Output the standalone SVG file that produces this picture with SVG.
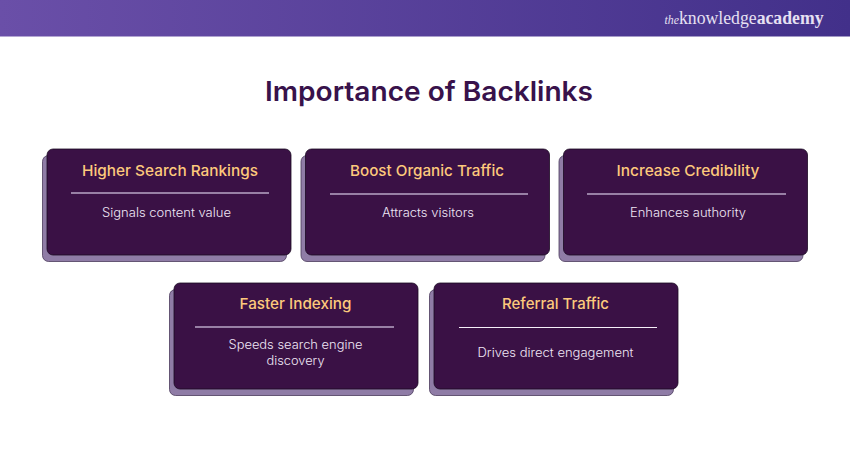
<svg xmlns="http://www.w3.org/2000/svg" width="850" height="450" viewBox="0 0 850 450">
<style>
text{font-family:Inter,"Liberation Sans",sans-serif;text-anchor:middle}
.s{fill:#8f7ca6;stroke:#4a3a5c;stroke-width:.8}
.f{fill:#3a1145;stroke:#1a0a22;stroke-width:.8}
.h{fill:#fdc97c;font-size:15px;font-weight:500}
.b{fill:#efe6f5;font-size:12.5px;font-weight:300}
.r{stroke:#b9a6c6;stroke-width:1.5}
</style>
<defs><linearGradient id="g" x1="0" x2="1" y1="0" y2="0"><stop offset="0" stop-color="#6a4fa8"/><stop offset="1" stop-color="#42308a"/></linearGradient></defs>
<rect id="banner" width="850" height="36.500" fill="url(#g)"/>
<g id="logo"><text x="744" y="24" style="font-family:'Liberation Serif',serif" font-size="18" fill="#e6e0f2" textLength="159" lengthAdjust="spacingAndGlyphs"><tspan font-style="italic" font-size="12">the</tspan>knowledge<tspan font-weight="700">academy</tspan></text></g>
<text id="title" x="429" y="101" font-size="27.500" font-weight="600" fill="#38124b" textLength="328" lengthAdjust="spacingAndGlyphs">Importance of Backlinks</text>
<g id="card1"><rect class="s" x="42.500" y="155.500" width="244" height="106" rx="6"/><rect class="f" x="47" y="149" width="244" height="106" rx="6"/><text class="h" x="170" y="176" textLength="176" lengthAdjust="spacingAndGlyphs">Higher Search Rankings</text><line class="r" x1="71" y1="193" x2="269" y2="193"/><text class="b" x="166.500" y="217" textLength="129" lengthAdjust="spacingAndGlyphs">Signals content value</text></g>
<g id="card2"><rect class="s" x="301" y="155.500" width="244" height="106" rx="6"/><rect class="f" x="305.500" y="149" width="244" height="106" rx="6"/><text class="h" x="427" y="176" textLength="154" lengthAdjust="spacingAndGlyphs">Boost Organic Traffic</text><line class="r" x1="330" y1="194" x2="528" y2="194"/><text class="b" x="428" y="217" textLength="92" lengthAdjust="spacingAndGlyphs">Attracts visitors</text></g>
<g id="card3"><rect class="s" x="559" y="155.500" width="244" height="106" rx="6"/><rect class="f" x="563.500" y="149" width="244" height="106" rx="6"/><text class="h" x="688" y="176" textLength="143" lengthAdjust="spacingAndGlyphs">Increase Credibility</text><line class="r" x1="587" y1="194" x2="786" y2="194"/><text class="b" x="688" y="217" textLength="116" lengthAdjust="spacingAndGlyphs">Enhances authority</text></g>
<g id="card4"><rect class="s" x="169.500" y="289.500" width="244" height="106" rx="6"/><rect class="f" x="174" y="283" width="244" height="106" rx="6"/><text class="h" x="295.500" y="309" textLength="112" lengthAdjust="spacingAndGlyphs">Faster Indexing</text><line class="r" x1="195" y1="327" x2="394" y2="327"/><text class="b" x="295.500" y="349" textLength="134" lengthAdjust="spacingAndGlyphs">Speeds search engine</text><text class="b" x="295.500" y="365" textLength="58" lengthAdjust="spacingAndGlyphs">discovery</text></g>
<g id="card5"><rect class="s" x="429.500" y="289.500" width="244" height="106" rx="6"/><rect class="f" x="434" y="283" width="244" height="106" rx="6"/><text class="h" x="555.500" y="309" textLength="107" lengthAdjust="spacingAndGlyphs">Referral Traffic</text><line x1="459" y1="327.500" x2="657" y2="327.500" stroke="#f5eff8" stroke-width="1.200"/><text class="b" x="555.500" y="357" textLength="156" lengthAdjust="spacingAndGlyphs">Drives direct engagement</text></g>
</svg>
